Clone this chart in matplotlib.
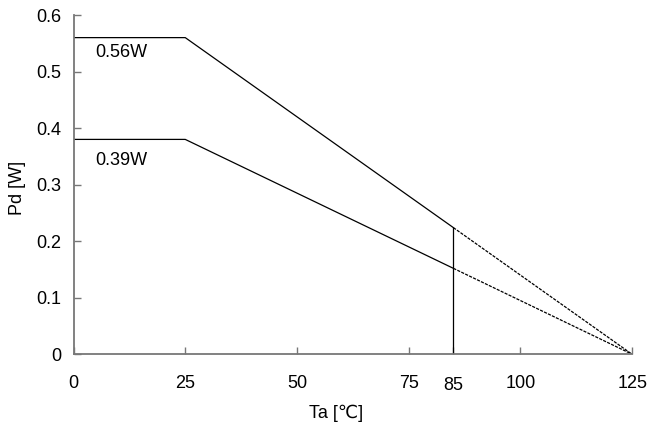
import matplotlib
matplotlib.use("Agg")
import matplotlib.pyplot as plt

plt.rcParams['font.family'] = ['Liberation Sans', 'DejaVu Sans']

# Data
ta_solid = [0, 25, 85]
pd_high_solid = [0.56, 0.56, 0.224]
pd_low_solid = [0.38, 0.38, 0.152]
ta_dash = [85, 125]
pd_high_dash = [0.224, 0.0]
pd_low_dash = [0.152, 0.0]
vline_x = 85
vline_top = 0.224
xticks = [0, 25, 50, 75, 85, 100, 125]
yticks = [0, 0.1, 0.2, 0.3, 0.4, 0.5, 0.6]
ytick_labels = ['0', '0.1', '0.2', '0.3', '0.4', '0.5', '0.6']
label_high = '0.56W'
label_low = '0.39W'

FS = 13

fig = plt.figure(figsize=(6.49, 4.25), dpi=100)
ax = fig.add_axes([0.1133, 0.1664, 0.8607, 0.7983])

ax.plot(ta_solid, pd_high_solid, color='black', lw=0.9)
ax.plot(ta_solid, pd_low_solid, color='black', lw=0.9)
ax.plot(ta_dash, pd_high_dash, color='black', lw=0.9, dashes=(2.5, 1))
ax.plot(ta_dash, pd_low_dash, color='black', lw=0.9, dashes=(2.5, 1))
ax.plot([vline_x, vline_x], [0, vline_top], color='black', lw=0.9)

ax.set_xlim(0, 125)
ax.set_ylim(0, 0.6)
ax.set_xticks(xticks)
ax.set_xticklabels([str(v) for v in xticks])
ax.set_yticks(yticks)
ax.set_yticklabels(ytick_labels)

for s in ['top', 'right']:
    ax.spines[s].set_visible(False)
for s in ['left', 'bottom']:
    ax.spines[s].set_color('#777777')
    ax.spines[s].set_linewidth(1.3)

ax.tick_params(axis='both', direction='in', length=5, width=1, color='#777777',
               labelsize=FS, labelcolor='black')
ax.tick_params(axis='y', pad=9)
ax.tick_params(axis='x', pad=15)
# 85 label sits slightly lower
ax.get_xaxis().get_major_ticks()[4]._apply_params(pad=16.5)

ax.text(4.9, 0.533, label_high, fontsize=FS, va='center', ha='left')
ax.text(4.9, 0.342, label_low, fontsize=FS, va='center', ha='left')

ax.set_xlabel('Ta [℃]', fontsize=FS, va='center')
ax.xaxis.set_label_coords(0.47, -0.173)
ax.set_ylabel('Pd [W]', fontsize=FS, va='center')
ax.yaxis.set_label_coords(-0.101, 0.49)

fig.savefig('out.png', dpi=100)
